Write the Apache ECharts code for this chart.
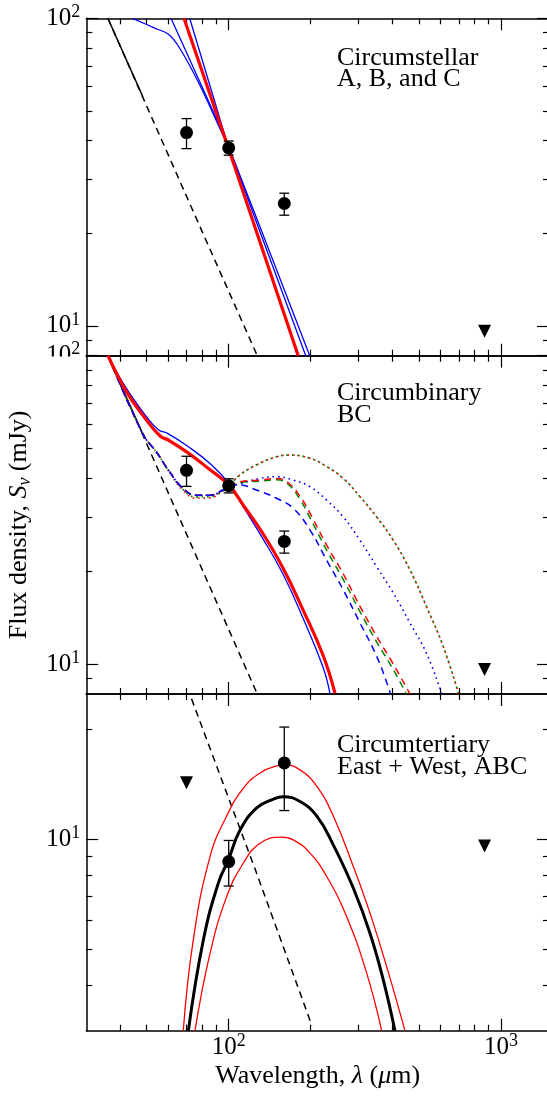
<!DOCTYPE html>
<html><head><meta charset="utf-8">
<script src="https://cdn.jsdelivr.net/npm/echarts@6/dist/echarts.min.js"></script>
<style>html,body{margin:0;padding:0;background:#fff}#c{width:547px;height:1099px}</style>
</head><body><div id="c"></div>
<script>
// ---------- tick values / labels ----------
const X_RANGE = [30, 1500];
const X_MAJOR = [100, 1000];
const X_MINOR = [40, 50, 60, 70, 80, 90, 200, 300, 400, 500, 600, 700, 800, 900];
const X_LABELS = [100, 1000];
const Y_RANGE_12 = [8, 100];
const Y_RANGE_3 = [3, 25];
const Y_MAJOR_12 = [10, 100];
const Y_MINOR_12 = [9, 20, 30, 40, 50, 60, 70, 80, 90];
const Y_LABELS_12 = [10, 100];
const Y_MAJOR_3 = [10];
const Y_MINOR_3 = [4, 5, 6, 7, 8, 9, 20];
const Y_LABELS_3 = [10];
const EXPONENT = {10: '1', 100: '2', 1000: '3'};
const PANEL_NOTES = [['Circumstellar', 'A, B, and C'], ['Circumbinary', 'BC'], ['Circumtertiary', 'East + West, ABC']];

// ---------- stellar photosphere (all panels) ----------
const photosphere = [[36.0, 100], [72.8, 24.4], [125, 8.3], [202, 3.1]];
const photosphereSolid = [[36.0, 100], [48.4, 55.6]];

// ---------- photometry ----------
// [wavelength, flux, lower, upper]
const pacsABC = [[70, 42.5, 37.7, 47.2], [100, 37.9, 35.9, 39.9], [160, 25.0, 22.9, 27.0]];
const pacsTert = [[100, 8.7, 7.46, 9.94], [160, 16.2, 12.0, 20.3]];
const limitsABC = [[870, 9.6]];
const limitsTert = [[70, 14.3], [870, 9.6]];

// ---------- panel 1: circumstellar ----------
const csRed = [[68.5, 100], [100, 37.6], [180, 8.0]];
const csBlueA = [[44.4, 100], [53.0, 93.2], [60.1, 88.7], [66.1, 79.9], [78.3, 60.7], [95.3, 41.7], [98.2, 39.9], [198.4, 8.0]];
const csBlueB = [[61.4, 100], [98.2, 39.9], [191.8, 8.0]];
const csBlueC = [[71.9, 100], [98.2, 39.9], [179, 8.0]];

// ---------- panel 2: circumbinary ----------
const cbRed = [[36.06, 100], [42.0, 76.8], [49.9, 61.9], [56.0, 54.9], [59.9, 53.3], [70.9, 48.4], [84.7, 42.9], [100, 38.1], [113.8, 32.5], [132.5, 26.8], [158.2, 20.5], [187.4, 15.0], [221.9, 10.7], [245.6, 8.05]];
const cbBlue = [[36.06, 100], [42.0, 78.6], [49.9, 63.4], [55.3, 57.4], [59.6, 56.0], [71.1, 50.7], [85.1, 44.8], [100, 38.6], [113.8, 32.1], [132.5, 25.8], [158.2, 19.6], [187.4, 14.1], [221.9, 9.78], [235.5, 8.0]];
const cbBlueDashed = [[36.06, 100], [48.5, 55.6], [54.2, 48.8], [60.7, 42.0], [68.0, 37.1], [76.0, 35.3], [85.2, 35.3], [95.3, 36.7], [100, 37.6], [109.7, 38.1], [126.2, 36.7], [149.8, 34.5], [172.7, 32.0], [198.9, 27.2], [229.0, 21.7], [263.4, 17.4], [303.4, 13.6], [349.4, 10.6], [385.4, 8.44], [392.5, 8.0]];
const cbRedDashed = [[36.06, 100], [48.5, 55.6], [54.2, 48.8], [60.7, 42.0], [68.0, 37.1], [76.0, 35.3], [85.2, 35.3], [95.3, 36.7], [100, 37.6], [109.7, 39.0], [130.3, 39.5], [150, 40.0], [165, 38.8], [182.7, 35.0], [198.9, 30.8], [229, 24.3], [263.4, 19.6], [303.4, 15.4], [349.4, 12.3], [402.1, 10.0], [463, 8.0]];
const cbGreenDashed = [[36.06, 100], [48.5, 55.6], [54.2, 48.8], [60.7, 42.0], [68.0, 37.1], [76.0, 35.2], [85.2, 35.2], [95.3, 36.6], [100, 37.5], [109.7, 38.8], [130.3, 39.2], [150, 39.6], [165, 38.3], [182.7, 34.2], [198.9, 29.8], [229, 23.4], [263.4, 18.8], [303.4, 14.8], [349.4, 11.8], [402.1, 9.6], [449, 8.0]];
const cbBlueDotted = [[36.06, 100], [48.5, 55.6], [54.2, 48.8], [60.7, 42.0], [68.0, 37.1], [76.0, 35.3], [85.2, 35.3], [95.3, 36.7], [100, 37.6], [109.7, 38.4], [130.3, 40.0], [150, 40.5], [172.7, 39.5], [198.9, 37.6], [229, 34.0], [263.4, 30.0], [303.4, 25.2], [349.4, 20.7], [402.1, 17.0], [463, 13.6], [533.3, 10.8], [605.2, 8.04]];
const cbRedDotted = [[36.06, 100], [48.5, 55.6], [54.2, 48.8], [60.7, 41.8], [68.0, 36.6], [76.0, 34.5], [85.2, 34.6], [95.3, 36.4], [100, 37.6], [109.7, 41.0], [126.2, 44.2], [149.5, 47.0], [167.5, 47.6], [198.9, 46.5], [229, 43.7], [263.4, 40.0], [303.4, 34.9], [349.4, 30.0], [402.1, 25.2], [463, 20.2], [533.3, 15.3], [613.5, 11.4], [699, 8.0]];
const cbGreenDotted = [[36.06, 100], [48.5, 55.6], [54.2, 48.8], [60.7, 41.9], [68.0, 36.8], [76.0, 34.8], [85.2, 34.9], [95.3, 36.5], [100, 37.6], [109.7, 41.0], [126.2, 44.2], [149.5, 47.0], [167.5, 47.6], [198.9, 46.5], [229, 43.7], [263.4, 40.0], [303.4, 34.9], [349.4, 30.0], [402.1, 25.2], [463, 20.2], [533.3, 15.3], [613.5, 11.4], [699, 8.0]];

// ---------- panel 3: circumtertiary ----------
const ctBlack = [[71.1, 3.0], [80.7, 5.31], [91.6, 7.6], [99.7, 8.8], [110, 10.6], [126.7, 12.2], [145.8, 12.9], [158.6, 13.1], [182.7, 12.7], [210.4, 11.6], [242.1, 9.67], [286.7, 7.37], [330.2, 5.54], [369.4, 4.13], [407.8, 3.0]];
const ctRedUpper = [[68.1, 3.0], [74.1, 5.31], [85.4, 8.98], [98.3, 11.6], [113.1, 13.8], [130.3, 15.2], [150, 15.9], [160.9, 16.0], [182.7, 15.5], [210.4, 14.0], [242.1, 11.6], [286.7, 8.44], [330.2, 6.29], [380.2, 4.49], [443.8, 3.0]];
const ctRedLower = [[75.2, 3.0], [85.4, 4.88], [98.3, 6.98], [113.1, 8.61], [130.3, 9.77], [156.5, 10.15], [172.7, 9.98], [198.9, 9.18], [229, 7.92], [271.1, 6.15], [321.1, 4.31], [364.5, 3.0]];

// ---------- styling ----------
const FONT = 'Liberation Serif';
const BLUE = '#0000ff', RED = '#ff0000', GREEN = '#008000', BLACK = '#000000';
const DASH = [7, 5], DOT = [1.6, 3.8];

const grids = [
  {left: 86.3, top: 18.3, width: 462.7, height: 337.4},
  {left: 86.3, top: 355.7, width: 462.7, height: 338.3},
  {left: 86.3, top: 694, width: 462.7, height: 336.7}
];
grids.forEach(g => { g.containLabel = false; g.outerBoundsMode = 'none'; });

const labelRich = {
  m: {fontFamily: FONT, fontSize: 25, lineHeight: 30, color: BLACK},
  s: {fontFamily: FONT, fontSize: 18, lineHeight: 19, verticalAlign: 'top', color: BLACK}
};

function axis(gi, position, ticks, len, showLine, labels, range, margin) {
  return {
    type: 'log', logBase: 10, gridIndex: gi, position: position,
    min: range[0], max: range[1], silent: true,
    axisLine: {show: showLine, onZero: false, lineStyle: {color: BLACK, width: 1.5}},
    axisTick: {show: true, inside: true, length: len, customValues: ticks, lineStyle: {color: BLACK, width: 1.2}},
    axisLabel: labels ? {
      show: true, customValues: labels, margin: margin, color: BLACK, fontFamily: FONT,
      formatter: v => '{m|10}{s|' + EXPONENT[Math.round(v)] + '}', rich: labelRich
    } : {show: false},
    splitLine: {show: false}, minorTick: {show: false}, minorSplitLine: {show: false},
    axisPointer: {show: false}
  };
}

const xAxis = [], yAxis = [];
const yRanges = [Y_RANGE_12, Y_RANGE_12, Y_RANGE_3];
const yMaj = [Y_MAJOR_12, Y_MAJOR_12, Y_MAJOR_3];
const yMin = [Y_MINOR_12, Y_MINOR_12, Y_MINOR_3];
const yLab = [Y_LABELS_12, Y_LABELS_12, Y_LABELS_3];
for (let g = 0; g < 3; g++) {
  xAxis.push(axis(g, 'bottom', X_MAJOR, 12, true, g === 2 ? X_LABELS : null, X_RANGE, 2));
  xAxis.push(axis(g, 'bottom', X_MINOR, 6, false, null, X_RANGE));
  xAxis.push(axis(g, 'top', X_MAJOR, 12, true, null, X_RANGE));
  xAxis.push(axis(g, 'top', X_MINOR, 6, false, null, X_RANGE));
  yAxis.push(axis(g, 'left', yMaj[g], 12, true, yLab[g], yRanges[g], 6));
  yAxis.push(axis(g, 'left', yMin[g], 6, false, null, yRanges[g]));
  yAxis.push(axis(g, 'right', yMaj[g], 12, true, null, yRanges[g]));
  yAxis.push(axis(g, 'right', yMin[g], 6, false, null, yRanges[g]));
}
// axis titles
Object.assign(xAxis[8], {
  name: 'Wavelength, {i|λ} ({i|μ}m)', nameLocation: 'middle', nameGap: 30,
  nameTextStyle: {fontFamily: FONT, fontSize: 26, color: BLACK, lineHeight: 30,
    rich: {i: {fontFamily: FONT, fontSize: 26, fontStyle: 'italic', color: BLACK, lineHeight: 30}}}
});
Object.assign(yAxis[4], {
  name: 'Flux density, {i|S}{sub|ν} (mJy)', nameLocation: 'middle', nameRotate: 90, nameGap: 52,
  nameTextStyle: {fontFamily: FONT, fontSize: 26, color: BLACK, lineHeight: 30,
    rich: {i: {fontFamily: FONT, fontSize: 26, fontStyle: 'italic', color: BLACK, lineHeight: 30},
           sub: {fontFamily: FONT, fontSize: 18, fontStyle: 'italic', color: BLACK, lineHeight: 18, verticalAlign: 'bottom'}}}
});

function line(data, gi, color, width, type, z, smooth, offset) {
  return {
    type: 'line', xAxisIndex: gi * 4, yAxisIndex: gi * 4, data: data,
    symbol: 'none', silent: true, clip: true, z: z,
    smooth: smooth || false,
    lineStyle: {color: color, width: width, type: type || 'solid', dashOffset: offset || 0, cap: 'butt'}
  };
}
function points(data, gi) {
  return {type: 'scatter', xAxisIndex: gi * 4, yAxisIndex: gi * 4, data: data.map(d => [d[0], d[1]]),
    symbol: 'circle', symbolSize: 13, itemStyle: {color: BLACK, opacity: 1}, silent: true, z: 20};
}
function limits(data, gi) {
  return {type: 'scatter', xAxisIndex: gi * 4, yAxisIndex: gi * 4, data: data,
    symbol: 'triangle', symbolRotate: 180, symbolSize: [13, 13], itemStyle: {color: BLACK, opacity: 1}, silent: true, z: 20};
}
function errorBars(data, gi) {
  return {
    type: 'custom', xAxisIndex: gi * 4, yAxisIndex: gi * 4, silent: true, z: 19,
    data: data.map(d => [d[0], d[2], d[3]]),
    encode: {x: 0, y: [1, 2]},
    renderItem: function (params, api) {
      const x = api.value(0);
      const pHi = api.coord([x, api.value(2)]);
      const pLo = api.coord([x, api.value(1)]);
      const w = 5;
      const st = {stroke: BLACK, lineWidth: 1.3};
      return {type: 'group', children: [
        {type: 'line', shape: {x1: pHi[0], y1: pHi[1], x2: pLo[0], y2: pLo[1]}, style: st},
        {type: 'line', shape: {x1: pHi[0] - w, y1: pHi[1], x2: pHi[0] + w, y2: pHi[1]}, style: st},
        {type: 'line', shape: {x1: pLo[0] - w, y1: pLo[1], x2: pLo[0] + w, y2: pLo[1]}, style: st}
      ]};
    }
  };
}

const S = 0.45;
const series = [
  // panel 1
  line(photosphere, 0, BLACK, 1.5, DASH, 3),
  line(photosphereSolid, 0, BLACK, 1.5, 'solid', 3),
  line(csBlueA, 0, BLUE, 1.3, 'solid', 4, 0.35),
  line(csBlueB, 0, BLUE, 1.3, 'solid', 4),
  line(csBlueC, 0, BLUE, 1.3, 'solid', 4),
  line(csRed, 0, RED, 3.2, 'solid', 5),
  errorBars(pacsABC, 0), points(pacsABC, 0), limits(limitsABC, 0),
  // panel 2
  line(photosphere, 1, BLACK, 1.5, DASH, 3),
  line(photosphereSolid, 1, BLACK, 1.5, 'solid', 3),
  line(cbRedDotted, 1, RED, 1.6, DOT, 4, S, 0),
  line(cbGreenDotted, 1, GREEN, 1.6, DOT, 4, S, 2.7),
  line(cbBlueDotted, 1, BLUE, 1.6, DOT, 4, S),
  line(cbGreenDashed, 1, GREEN, 1.5, DASH, 4, S),
  line(cbRedDashed, 1, RED, 1.5, DASH, 4, S),
  line(cbBlueDashed, 1, BLUE, 1.5, DASH, 4, S),
  line(cbBlue, 1, BLUE, 1.3, 'solid', 5, S),
  line(cbRed, 1, RED, 3.2, 'solid', 6, S),
  errorBars(pacsABC, 1), points(pacsABC, 1), limits(limitsABC, 1),
  // panel 3
  line(photosphere, 2, BLACK, 1.5, DASH, 3),
  line(ctRedUpper, 2, RED, 1.3, 'solid', 4, S),
  line(ctRedLower, 2, RED, 1.3, 'solid', 4, S),
  line(ctBlack, 2, BLACK, 3, 'solid', 5, S),
  errorBars(pacsTert, 2), points(pacsTert, 2), limits(limitsTert, 2)
];

const noteY = [[58.5, 79], [393.3, 415], [745, 766.7]];
const graphic = [];
PANEL_NOTES.forEach((lines, i) => lines.forEach((t, j) => graphic.push({
  type: 'text', x: 337, y: noteY[i][j], z: 50,
  style: {text: t, fill: BLACK, font: '26px "' + FONT + '"', align: 'left', verticalAlign: 'middle'}
})));
// mask the lower half of the "10^2" label at the top of panel 2 (as in the original)
graphic.push({type: 'rect', shape: {x: 0, y: 356.6, width: 84, height: 16}, style: {fill: '#ffffff'}, z: 100});

const chart = echarts.init(document.getElementById('c'), null, {renderer: 'canvas'});
chart.setOption({
  animation: false,
  backgroundColor: '#ffffff',
  textStyle: {fontFamily: FONT},
  grid: grids,
  xAxis: xAxis,
  yAxis: yAxis,
  series: series,
  graphic: graphic
});
</script></body></html>
